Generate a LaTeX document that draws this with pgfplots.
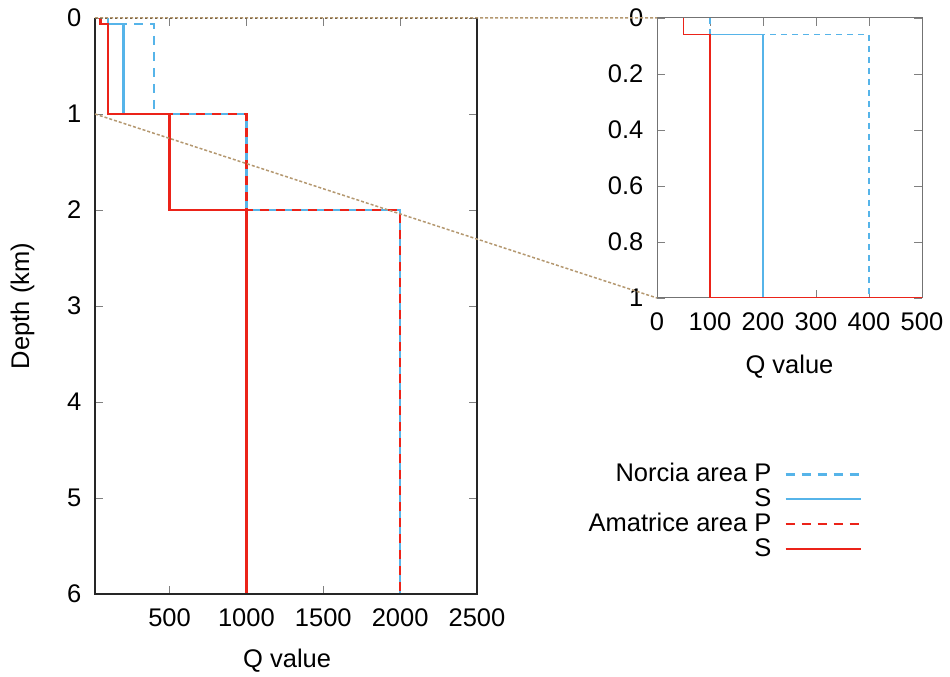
\documentclass[border=0pt]{standalone}
\usepackage{fontspec}
\setmainfont{Liberation Sans}
\usepackage{pgfplots}
\pgfplotsset{compat=1.18}
\definecolor{qblue}{RGB}{86,180,233}
\definecolor{qred}{RGB}{235,35,25}
\definecolor{qtan}{RGB}{180,152,112}
\newcommand{\qf}{\fontsize{25.5}{30}\selectfont}
\begin{document}
\qf
\begin{tikzpicture}
\useasboundingbox (-95pt,-83pt) rectangle (855pt,594pt);
\begin{axis}[at={(0pt,0pt)}, anchor=south west, scale only axis,
 width=382pt, height=576pt,
 xmin=15, xmax=2500, ymin=0, ymax=6, y dir=reverse,
 xtick={500,1000,1500,2000,2500}, ytick={0,1,2,3,4,5,6},
 tick align=inside, major tick length=8pt,
 every tick/.style={black!50, line width=0.6pt},
 axis line style={draw=none},
 clip=false,
 /pgf/number format/assume math mode=true,
 /pgf/number format/1000 sep={},
 ticklabel style={font=\qf},
 xticklabel style={yshift=-6pt},
 yticklabel style={xshift=-5pt},
 label style={font=\qf},
 xlabel={Q value}, ylabel={Depth (km)},
 xlabel style={at={(axis description cs:0.503,-0.115)}, anchor=center},
 ylabel style={at={(axis description cs:-0.19,0.5)}, anchor=center},
 legend plot pos=right,
 legend cell align=right,
 legend image code/.code={\draw[#1] (0pt,0pt) -- (75pt,0pt);},
 legend style={draw=none, fill=none, at={(axis description cs:2.008,0.231)}, anchor=north east,
   font=\qf, row sep=-1pt, inner sep=0pt,
   /tikz/every odd column/.append style={column sep=11pt}},
]
\addplot[qblue, line width=2.4pt, dash pattern=on 9pt off 7pt] coordinates {(100,0)(100,0.06)(400,0.06)(400,1)(1000,1)(1000,2)(2000,2)(2000,6)};
\addlegendentry{Norcia area P}
\addplot[qblue, line width=2.4pt] coordinates {(50,0)(50,0.06)(200,0.06)(200,1)(500,1)(500,2)(1000,2)(1000,6)};
\addlegendentry{S}
\addplot[qred, line width=2.4pt, dash pattern=on 9pt off 7pt] coordinates {(50,0)(50,0.06)(100,0.06)(100,1)(1000,1)(1000,2)(2000,2)(2000,6)};
\addlegendentry{Amatrice area P}
\addplot[qred, line width=2.4pt] coordinates {(50,0)(50,0.06)(100,0.06)(100,1)(500,1)(500,2)(1000,2)(1000,6)};
\addlegendentry{S}
\draw[black!85, line width=1.6pt] (axis cs:15,0) -- (axis cs:15,6) -- (axis cs:2500,6) -- (axis cs:2500,0);
\coordinate (a0) at (axis cs:15,0);
\coordinate (a1) at (axis cs:15,1);
\coordinate (a2) at (axis cs:2500,0);
\end{axis}
\begin{axis}[at={(562pt,296pt)}, anchor=south west, scale only axis,
 width=265pt, height=280pt,
 xmin=0, xmax=500, ymin=0, ymax=1, y dir=reverse,
 xtick={0,100,200,300,400,500}, ytick={0,0.2,0.4,0.6,0.8,1},
 tick align=inside, major tick length=8pt,
 every tick/.style={black!50, line width=0.6pt},
 axis line style={black!55, line width=1pt},
 /pgf/number format/assume math mode=true,
 ticklabel style={font=\qf},
 xticklabel style={yshift=-6pt},
 yticklabel style={xshift=-5pt},
 label style={font=\qf},
 xlabel={Q value},
 xlabel style={at={(axis description cs:0.5,-0.245)}, anchor=center},
]
\addplot[qblue, line width=1.3pt, dash pattern=on 6pt off 5pt] coordinates {(100,0)(100,0.06)(400,0.06)(400,1)(1000,1)(1000,2)(2000,2)(2000,6)};
\addplot[qblue, line width=1.3pt] coordinates {(50,0)(50,0.06)(200,0.06)(200,1)(500,1)(500,2)(1000,2)(1000,6)};
\addplot[qred, line width=1.3pt, dash pattern=on 6pt off 5pt] coordinates {(50,0)(50,0.06)(100,0.06)(100,1)(1000,1)(1000,2)(2000,2)(2000,6)};
\addplot[qred, line width=1.3pt] coordinates {(50,0)(50,0.06)(100,0.06)(100,1)(500,1)(500,2)(1000,2)(1000,6)};
\coordinate (b0) at (axis cs:0,0);
\coordinate (b1) at (axis cs:0,1);
\end{axis}
\draw[black, line width=1.4pt, dash pattern=on 1.5pt off 3.5pt] (a0) -- (a2);
\draw[qtan, line width=1.5pt, dash pattern=on 3pt off 2pt] (a0) -- (b0);
\draw[qtan, line width=1.5pt, dash pattern=on 3pt off 2pt] (a1) -- (b1);
\end{tikzpicture}
\end{document}
